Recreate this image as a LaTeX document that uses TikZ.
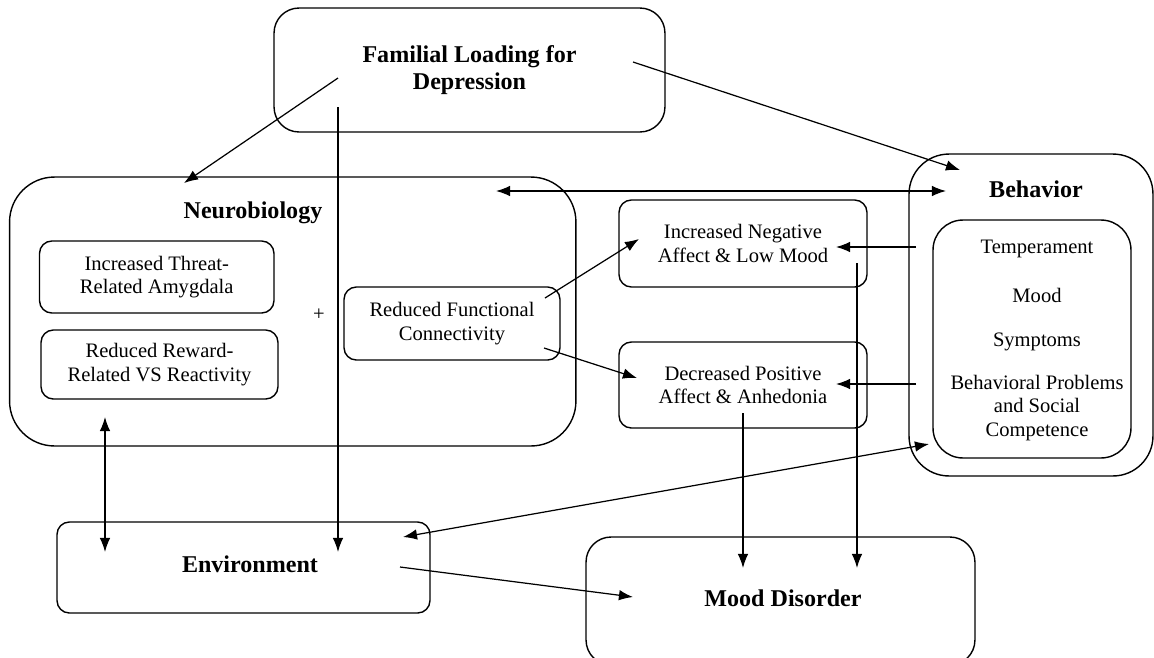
\documentclass[tikz,border=0pt]{standalone}
\usepackage{fontspec}
\setmainfont{Liberation Serif}
\usetikzlibrary{arrows.meta}
\tikzset{
  box/.style={draw, line width=0.8pt, rounded corners=7pt, align=center, inner sep=0pt},
  lbl/.style={font=\fontsize{11.7}{13.2}\selectfont, align=center},
  head/.style={font=\bfseries\fontsize{13.7}{15.4}\selectfont, align=center},
  conn/.style={line width=0.7pt, -{Latex[length=8pt,width=6pt]}},
  both/.style={line width=0.7pt, {Latex[length=8pt,width=6pt]}-{Latex[length=8pt,width=6pt]}},
}
\begin{document}
\begin{tikzpicture}[x=0.02cm, y=-0.02cm]
\useasboundingbox (0,0) rectangle (1154,657);
\clip (0,0) rectangle (1154,657);
% top
\node[box, head, minimum width=7.82cm, minimum height=2.48cm, rounded corners=0.5cm] (fam) at (469.5,70) {Familial Loading for\\Depression};
% neurobiology block
\node[box, minimum width=11.33cm, minimum height=5.38cm, rounded corners=0.9cm] (neuro) at (292.75,311.5) {};
\node[head] (neurolbl) at (253,213) {Neurobiology};
\node[box, lbl, minimum width=4.69cm, minimum height=1.44cm] (threat) at (156.75,277) {Increased Threat-\\Related Amygdala};
\node[box, lbl, minimum width=4.74cm, minimum height=1.38cm] (reward) at (159.5,364.5) {Reduced Reward-\\Related VS Reactivity};
\node[lbl] (plus) at (319,315) {+};
\node[box, lbl, minimum width=4.32cm, minimum height=1.46cm] (rfc) at (452,323.5) {Reduced Functional\\Connectivity};
% affect
\node[box, lbl, minimum width=4.96cm, minimum height=1.74cm] (neg) at (743,243.5) {Increased Negative\\Affect \& Low Mood};
\node[box, lbl, minimum width=4.96cm, minimum height=1.72cm] (pos) at (743,385) {Decreased Positive\\Affect \& Anhedonia};
% behavior block
\node[box, minimum width=4.88cm, minimum height=6.44cm, rounded corners=0.8cm] (behav) at (1031,315) {};
\node[head] (behavlbl) at (1036,189) {Behavior};
\node[box, minimum width=3.96cm, minimum height=4.76cm, rounded corners=0.6cm] (inner) at (1032,339) {};
\node[lbl] (temper) at (1037,249) {Temperament};
\node[lbl] (moodtxt) at (1037,295) {Mood};
\node[lbl] (sympt) at (1037,342) {Symptoms};
\node[lbl] (probs) at (1037,408) {Behavioral Problems\\and Social\\Competence};
% bottom
\node[box, minimum width=7.46cm, minimum height=1.82cm] (env) at (243.5,567.5) {};
\node[head] (envlbl) at (250,564) {Environment};
\node[box, minimum width=7.78cm, minimum height=2.56cm, rounded corners=0.5cm] (mood) at (780.5,601) {};
\node[head] (moodlbl) at (783,598) {Mood Disorder};

% connector ends
\coordinate (famA) at (338,78);
\coordinate (famB) at (338,107);
\coordinate (famC) at (633,62);
\coordinate (neuroT) at (184,183);
\coordinate (neuroR) at (496,191);
\coordinate (neuroB) at (105,417);
\coordinate (behavT) at (960,170);
\coordinate (behavL) at (946,191);
\coordinate (behavB) at (929,444);
\coordinate (rfcA) at (545,298);
\coordinate (rfcB) at (544,348);
\coordinate (negIn) at (639,239);
\coordinate (posIn) at (637,378);
\coordinate (negR) at (836,247);
\coordinate (posR) at (836,384);
\coordinate (innerA) at (916,247);
\coordinate (innerB) at (916,384);
\coordinate (negB) at (857,263);
\coordinate (posB) at (743,413);
\coordinate (moodA) at (857,568);
\coordinate (moodB) at (743,568);
\coordinate (moodL) at (633,597);
\coordinate (envA) at (105,552);
\coordinate (envB) at (338,552);
\coordinate (envR) at (403,537);
\coordinate (envC) at (400,567);

\draw[conn] (famA) -- (neuroT);
\draw[conn] (famB) -- (envB);
\draw[conn] (famC) -- (behavT);
\draw[both] (neuroR) -- (behavL);
\draw[conn] (rfcA) -- (negIn);
\draw[conn] (rfcB) -- (posIn);
\draw[conn] (innerA) -- (negR);
\draw[conn] (innerB) -- (posR);
\draw[conn] (negB) -- (moodA);
\draw[conn] (posB) -- (moodB);
\draw[both] (envR) -- (behavB);
\draw[both] (neuroB) -- (envA);
\draw[conn] (envC) -- (moodL);
\end{tikzpicture}
\end{document}
